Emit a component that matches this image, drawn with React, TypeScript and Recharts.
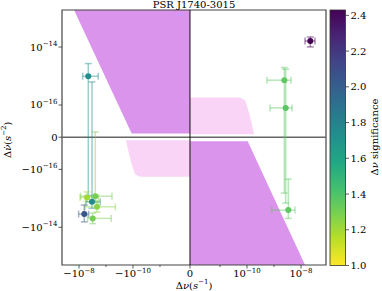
import React from 'react';
import { ComposedChart, XAxis, YAxis, Scatter, ErrorBar, Area, ReferenceLine, ReferenceArea } from 'recharts';

// ---------- data (real units) ----------
const TITLE = 'PSR J1740-3015';
const dnu = [2.21e-8, 2.41e-9, 2.71e-9, 3.39e-9, -4.53e-9, -5.06e-9, -2.49e-9, -3.3e-9, -2.15e-9, -6.37e-9, -3.11e-9];
const dnuLow = [1.41e-8, 5.5e-10, 7.1e-10, 8.2e-10, -7.29e-9, -9.2e-9, -8.65e-9, -5.5e-9, -6.0e-9, -1.03e-8, -4.8e-9];
const dnuHigh = [3.3e-8, 4.26e-9, 4.64e-9, 6.0e-9, -1.93e-9, -1.9e-9, -6.0e-10, -1.63e-9, -4.5e-10, -4.4e-9, -6.4e-10];
const dnudot = [1.62e-14, 7.16e-16, 9.1e-17, -2.55e-15, 9.8e-16, -9.3e-16, -8.4e-16, -1.32e-15, -1.96e-15, -3.5e-15, -4.92e-15];
const dnudotLow = [1.01e-14, -6.6e-16, -1.46e-15, -4.92e-15, -8.0e-16, -1.3e-15, -1.4e-15, -2.2e-15, -3.0e-15, -6.5e-15, -7.5e-15];
const dnudotHigh = [2.23e-14, 1.96e-15, 1.71e-15, -2.17e-16, 2.69e-15, -6.0e-16, 1.65e-17, 6.25e-16, -1.2e-15, -1.71e-15, -3.2e-15];
const significance = [2.43, 1.36, 1.37, 1.36, 1.72, 1.2, 1.3, 1.75, 1.25, 2.05, 1.3];

const xMajorTicks = [-1e-8, -1e-10, 0, 1e-10, 1e-8];
const xMinorTicks = [-1e-9, -1e-11, 1e-11, 1e-9];
const yMajorTicks = [-1e-14, -1e-16, 0, 1e-16, 1e-14];
const cbarTicks = [1.0, 1.2, 1.4, 1.6, 1.8, 2.0, 2.2, 2.4];

const X_RANGE = [-4.26e-8, 8.43e-8];
const Y_RANGE = [-2.0e-13, 1.9e-13];
const CBAR_RANGE = [1.0, 2.43];
const X_LINTHRESH = 1e-11;
const Y_LINTHRESH = 1e-16;

// shaded regions (real units)
const ulRegionX = [-1.53e-8, -1.12e-10, 0];
const ulRegionLow = [1.9e-13, 1.15e-17, 1.15e-17];
const ulRegionHigh = [1.9e-13, 1.9e-13, 1.9e-13];

const lrRegionX = [0, 1.06e-10, 1.41e-8];
const lrRegionLow = [-2.0e-13, -2.0e-13, -2.0e-13];
const lrRegionHigh = [-1.24e-17, -1.24e-17, -2.0e-13];

const urRegionX = [0, 5.5e-11, 8.43e-11, 1.12e-10, 1.49e-10, 1.82e-10];
const urRegionLow = [9.3e-18, 9.3e-18, 9.3e-18, 9.3e-18, 9.3e-18, 9.3e-18];
const urRegionHigh = [1.81e-16, 1.81e-16, 1.46e-16, 8.4e-17, 4.3e-17, 9.3e-18];

const llRegionX = [-1.82e-10, -1.49e-10, -1.12e-10, -8.43e-11, -5.5e-11, 0];
const llRegionLow = [-9.3e-18, -4.3e-17, -8.4e-17, -1.46e-16, -1.81e-16, -1.81e-16];
const llRegionHigh = [-9.3e-18, -9.3e-18, -9.3e-18, -9.3e-18, -9.3e-18, -9.3e-18];

// ---------- helpers ----------
const LINSCALE = 1 / (1 - 1 / 10);
function symlog(v: number, lin: number) {
  const a = Math.abs(v);
  if (a <= lin) return (v / lin) * LINSCALE;
  return Math.sign(v) * (LINSCALE + Math.log10(a / lin));
}
const xT = (v: number) => symlog(v, X_LINTHRESH);
const yT = (v: number) => symlog(v, Y_LINTHRESH);

const VIRIDIS = ['#440154', '#482475', '#414487', '#355f8d', '#2a788e', '#21918c', '#22a884', '#44bf70', '#7ad151', '#bddf26', '#fde725'];
function hex(c: string) {
  return [parseInt(c.slice(1, 3), 16), parseInt(c.slice(3, 5), 16), parseInt(c.slice(5, 7), 16)];
}
function viridis(t: number) {
  const tt = Math.max(0, Math.min(1, t));
  const p = tt * 10;
  const i = Math.min(9, Math.floor(p));
  const f = p - i;
  const a = hex(VIRIDIS[i]);
  const b = hex(VIRIDIS[i + 1]);
  const m = a.map((v, k) => Math.round(v + (b[k] - v) * f));
  return `rgb(${m[0]},${m[1]},${m[2]})`;
}
const sigColor = (s: number) => viridis(1 - (s - CBAR_RANGE[0]) / (CBAR_RANGE[1] - CBAR_RANGE[0]));

const PURPLE = '#da94eb';
const PINK = '#f9d4f6';
const FONT = 'DejaVu Serif';

const band = (xs: number[], lo: number[], hi: number[]) =>
  xs.map((x, i) => ({ x: xT(x), band: [yT(lo[i]), yT(hi[i])] }));

const ulData = band(ulRegionX, ulRegionLow, ulRegionHigh);
const lrData = band(lrRegionX, lrRegionLow, lrRegionHigh);
const urData = band(urRegionX, urRegionLow, urRegionHigh);
const llData = band(llRegionX, llRegionLow, llRegionHigh);

const points = dnu.map((x, i) => {
  const tx = xT(x);
  const ty = yT(dnudot[i]);
  return {
    x: tx,
    y: ty,
    ex: [tx - xT(dnuLow[i]), xT(dnuHigh[i]) - tx],
    ey: [ty - yT(dnudotLow[i]), yT(dnudotHigh[i]) - ty],
    color: sigColor(significance[i]),
  };
});

const xTickList = [
  ...xMajorTicks.map((v) => ({ v, major: true })),
  ...xMinorTicks.map((v) => ({ v, major: false })),
].sort((a, b) => xT(a.v) - xT(b.v));

function powLabel(v: number, x: number, y: number, anchor: 'middle' | 'end' | 'start') {
  if (v === 0) {
    return (
      <text x={x} y={y} textAnchor={anchor} fontFamily={FONT} fontSize={10} fill="#000">
        0
      </text>
    );
  }
  const e = Math.round(Math.log10(Math.abs(v)));
  return (
    <text x={x} y={y} textAnchor={anchor} fontFamily={FONT} fontSize={10} fill="#000">
      {v < 0 ? '\u2212' : ''}10
      <tspan dy={-4.5} fontSize={7}>{(e < 0 ? '\u2212' : '') + Math.abs(e)}</tspan>
    </text>
  );
}

const XTick = (props: any) => {
  const { x, y, payload } = props;
  const info = xTickList.find((d) => Math.abs(xT(d.v) - payload.value) < 1e-6);
  const major = info ? info.major : false;
  return (
    <g>
      <line x1={x} x2={x} y1={y} y2={y + (major ? 3.5 : 2)} stroke="#333" strokeWidth={0.8} />
      {major && info ? powLabel(info.v, x, y + 12, 'middle') : null}
    </g>
  );
};

const YTick = (props: any) => {
  const { x, y, payload } = props;
  const info = yMajorTicks.find((v) => Math.abs(yT(v) - payload.value) < 1e-6);
  return (
    <g>
      <line x1={x} x2={x - 3.5} y1={y} y2={y} stroke="#333" strokeWidth={0.8} />
      {info !== undefined ? powLabel(info, x - 4.5, y + 3.5, 'end') : null}
    </g>
  );
};

const Dot = (props: any) => {
  const { cx, cy, payload } = props;
  if (cx == null || cy == null) return null;
  return <circle cx={cx} cy={cy} r={3} fill={payload.color} />;
};

// colorbar geometry
const CB_X = 330;
const CB_Y = 10;
const CB_W = 15.5;
const CB_H = 255.5;
const cbY = (s: number) => CB_Y + ((CBAR_RANGE[1] - s) / (CBAR_RANGE[1] - CBAR_RANGE[0])) * CB_H;

export default function App() {
  return (
    <div style={{ position: 'absolute', left: 0, top: 0, width: 382, height: 291, background: '#fff' }}>
      <ComposedChart width={382} height={291} margin={{ top: 10, right: 56, bottom: 6, left: 12 }}>
        <XAxis
          type="number"
          dataKey="x"
          domain={[xT(X_RANGE[0]), xT(X_RANGE[1])]}
          ticks={xTickList.map((d) => xT(d.v))}
          interval={0}
          tick={XTick}
          tickLine={false}
          axisLine={false}
          tickSize={0}
          tickMargin={0}
          height={20}
          allowDataOverflow
        />
        <YAxis
          type="number"
          dataKey="y"
          domain={[yT(Y_RANGE[0]), yT(Y_RANGE[1])]}
          ticks={yMajorTicks.map((v) => yT(v))}
          interval={0}
          tick={YTick}
          tickLine={false}
          axisLine={false}
          tickSize={0}
          tickMargin={0}
          width={50}
          allowDataOverflow
        />
        <Area data={ulData} dataKey="band" type="linear" stroke="none" fill={PURPLE} fillOpacity={1} dot={false} activeDot={false} isAnimationActive={false} />
        <Area data={lrData} dataKey="band" type="linear" stroke="none" fill={PURPLE} fillOpacity={1} dot={false} activeDot={false} isAnimationActive={false} />
        <Area data={urData} dataKey="band" type="linear" stroke="none" fill={PINK} fillOpacity={1} dot={false} activeDot={false} isAnimationActive={false} />
        <Area data={llData} dataKey="band" type="linear" stroke="none" fill={PINK} fillOpacity={1} dot={false} activeDot={false} isAnimationActive={false} />
        <ReferenceLine y={0} stroke="#666" strokeWidth={1.6} />
        <ReferenceLine x={0} stroke="#111" strokeWidth={1} />
        {points.map((p, i) => (
          <Scatter key={i} data={[p]} fill={p.color} shape={Dot} isAnimationActive={false}>
            <ErrorBar dataKey="ex" direction="x" width={3.5} stroke={p.color} strokeOpacity={0.45} strokeWidth={1.5} isAnimationActive={false} />
            <ErrorBar dataKey="ey" direction="y" width={3.5} stroke={p.color} strokeOpacity={0.45} strokeWidth={1.5} isAnimationActive={false} />
          </Scatter>
        ))}
        <ReferenceArea
          x1={xT(X_RANGE[0])}
          x2={xT(X_RANGE[1])}
          y1={yT(Y_RANGE[0])}
          y2={yT(Y_RANGE[1])}
          fill="none"
          fillOpacity={0}
          stroke="#444"
          strokeWidth={1.2}
        />
      </ComposedChart>
      <svg width={382} height={291} style={{ position: 'absolute', left: 0, top: 0, pointerEvents: 'none' }}>
        <defs>
          <linearGradient id="cbar" x1="0" y1="0" x2="0" y2="1">
            {VIRIDIS.map((c, i) => (
              <stop key={i} offset={`${i * 10}%`} stopColor={c} />
            ))}
          </linearGradient>
        </defs>
        <text x={194} y={8} textAnchor="middle" fontFamily={FONT} fontSize={10} fill="#000">
          {TITLE}
        </text>
        <text x={194} y={288.5} textAnchor="middle" fontFamily={FONT} fontSize={10} fill="#000">
          Δ<tspan fontStyle="italic">ν</tspan>(<tspan fontStyle="italic">s</tspan>
          <tspan dy={-4.5} fontSize={7}>{'\u22121'}</tspan>
          <tspan dy={4.5}>)</tspan>
        </text>
        <text x={10.5} y={158} transform="rotate(-90, 10.5, 158)" textAnchor="start" fontFamily={FONT} fontSize={10} fill="#000">
          Δ<tspan fontStyle="italic">ν</tspan>
          <tspan dx={-5.2}>{'\u02D9'}</tspan>(<tspan fontStyle="italic">s</tspan>
          <tspan dy={-4.5} fontSize={7}>{'\u22122'}</tspan>
          <tspan dy={4.5}>)</tspan>
        </text>
        <rect x={CB_X} y={CB_Y} width={CB_W} height={CB_H} fill="url(#cbar)" stroke="#333" strokeWidth={0.8} />
        {cbarTicks.map((s) => (
          <g key={s}>
            <line x1={CB_X + CB_W} x2={CB_X + CB_W + 3.5} y1={cbY(s)} y2={cbY(s)} stroke="#333" strokeWidth={0.8} />
            <text x={CB_X + CB_W + 5} y={cbY(s) + 3.5} fontFamily={FONT} fontSize={10} fill="#000">
              {s.toFixed(1)}
            </text>
          </g>
        ))}
        <text x={377.5} y={137} transform="rotate(-90, 377.5, 137)" textAnchor="middle" fontFamily={FONT} fontSize={10} fill="#000">
          Δ<tspan fontStyle="italic">ν</tspan> significance
        </text>
      </svg>
    </div>
  );
}
